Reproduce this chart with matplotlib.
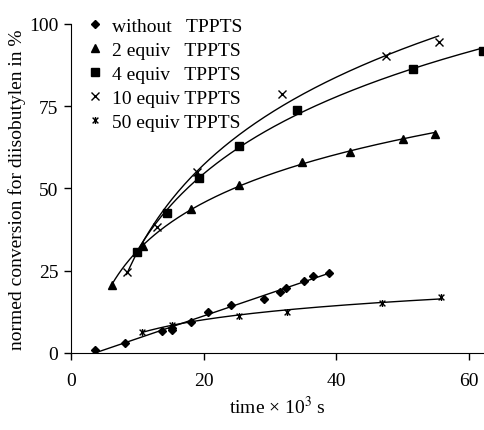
import numpy as np
import matplotlib
matplotlib.use("Agg")
import matplotlib.pyplot as plt
from matplotlib.path import Path

plt.rcParams['font.family'] = ['Liberation Serif', 'DejaVu Serif']
plt.rcParams['mathtext.fontset'] = 'stix'

# time x 10^3 s, normed conversion in %
t_0 = [3.6, 8.1, 13.7, 15.2, 15.2, 18.1, 20.7, 24.1, 29.1, 31.5, 32.4, 35.1, 36.5, 38.9]
c_0 = [0.9, 3.0, 6.7, 7.6, 7.0, 9.4, 12.5, 14.6, 16.4, 18.5, 19.8, 21.9, 23.4, 24.3]

t_2 = [6.2, 10.9, 18.1, 25.3, 34.8, 42.1, 50.1, 54.9]
c_2 = [20.7, 32.5, 43.8, 51.0, 58.1, 61.1, 65.0, 66.6]

t_4 = [9.9, 14.5, 19.3, 25.3, 34.1, 51.6, 62.1]
c_4 = [30.7, 42.6, 53.2, 63.0, 73.9, 86.3, 91.8]

t_10 = [8.4, 13.0, 19.0, 31.8, 47.5, 55.4]
c_10 = [24.6, 38.4, 55.0, 78.7, 90.3, 94.5]

t_50 = [10.7, 15.2, 25.3, 32.6, 46.9, 55.8]
c_50 = [6.4, 8.5, 11.3, 12.5, 15.2, 17.0]

labels = ["without   TPPTS", "2 equiv   TPPTS", "4 equiv   TPPTS",
          "10 equiv TPPTS", "50 equiv TPPTS"]

# asterisk marker: x with vertical bar
star = Path([(-1, -1), (1, 1), (-1, 1), (1, -1), (0, -1.2), (0, 1.2)],
            [Path.MOVETO, Path.LINETO, Path.MOVETO, Path.LINETO, Path.MOVETO, Path.LINETO])

fig = plt.figure(figsize=(4.85, 4.31), dpi=100)
ax = fig.add_axes([0.146, 0.179, 0.854, 0.763])


def log_trend(t, c):
    # logarithmic trendline fitted to the measured points
    k, d = np.polyfit(np.log(t), c, 1)
    tt = np.linspace(min(t), max(t), 200)
    return tt, k * np.log(tt) + d


def lin_trend(t, c):
    k, d = np.polyfit(t, c, 1)
    tt = np.linspace(min(t), max(t), 50)
    return tt, k * tt + d


series = [
    (t_0, c_0, 'D', 4, lin_trend),
    (t_2, c_2, '^', 6, log_trend),
    (t_4, c_4, 's', 5.5, log_trend),
    (t_10, c_10, 'x', 6, log_trend),
    (t_50, c_50, star, 5, log_trend),
]

for (t, c, m, ms, trend), lab in zip(series, labels):
    tt, cc = trend(t, c)
    ax.plot(tt, cc, color='black', lw=1.0)
    ax.plot(t, c, ls='none', marker=m, ms=ms, color='black', mew=1.0, label=lab)

ax.set_xlim(0, 62.4)
ax.set_ylim(0, 100)
ax.set_xticks([0, 20, 40, 60])
ax.set_yticks([0, 25, 50, 75, 100])
ax.spines['top'].set_visible(False)
ax.spines['right'].set_visible(False)
ax.tick_params(direction='out', length=5, width=1, labelsize=14, pad=9)
ax.tick_params(axis='y', pad=4)
ax.set_xlabel("time × 10$^3$ s", fontsize=14, labelpad=4)
ax.set_ylabel("normed conversion for diisobutylen in %", fontsize=14, labelpad=2)

ax.legend(loc='upper left', bbox_to_anchor=(0.02, 1.045), frameon=False, fontsize=14,
          handlelength=0.8, handletextpad=0.5, labelspacing=0.33, borderaxespad=0)

fig.savefig("out.png", dpi=100)
